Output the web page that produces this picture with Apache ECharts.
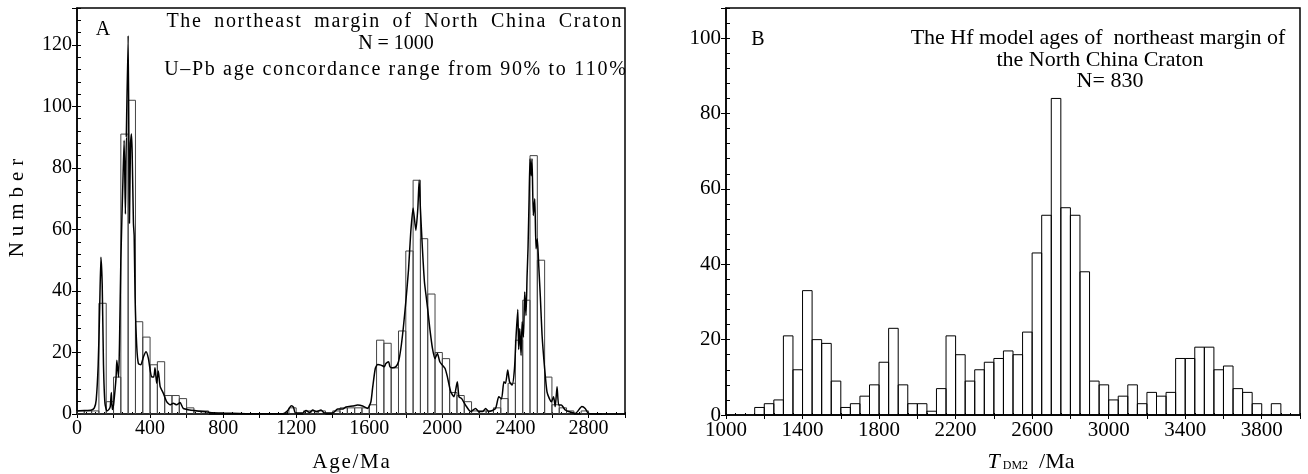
<!DOCTYPE html>
<html><head><meta charset="utf-8">
<script src="https://cdn.jsdelivr.net/npm/echarts@6/dist/echarts.min.js"></script>
<style>html,body{margin:0;padding:0;background:#fff}#c{width:1308px;height:474px}</style>
</head><body><div id="c"></div>
<script>
// Panel A: U-Pb age histogram (bin width 40 Ma)
const binWidthA = 40;
const binStartA = [0,40,80,120,160,200,240,280,320,360,400,440,480,520,560,600,640,680,1160,1240,1280,1320,1400,1440,1480,1520,1560,1600,1640,1680,1720,1760,1800,1840,1880,1920,1960,2000,2040,2080,2120,2160,2200,2240,2280,2320,2360,2400,2440,2480,2520,2560,2600,2640,2680,2760];
const countA   = [1,1,1,36,4,12,91,102,30,25,16,17,6,6,5,2,1,1,2,1,1,1,1,2,2,2,2,3,24,23,15,27,53,76,57,39,20,18,7,6,4,1,1,1,2,5,10,24,37,84,50,12,3,2,1,1];
// Panel A: probability density curve [age, number]
const curveA = [[0,1],[40,1.1],[80,1.3],[95,2],[105,4.5],[116,16],[124,34],[131,51],[138,42],[145,16],[153,3.5],[164,1],[175,1.5],[182,2.4],[188,7],[193,1.5],[200,3],[207,7],[214,12],[218,17.5],[224,14],[228,12],[233,24],[240,50],[251,75],[258,89],[265,65],[270,90],[273,90],[280,123],[287,62],[293,88],[298,91],[302,85],[309,62],[313,58],[318,38],[327,22],[336,16.4],[349,16],[364,18.6],[378,20.2],[391,18],[409,12],[420,12],[427,15],[436,10],[445,14],[455,9],[473,6.7],[491,4],[509,3],[527,3.5],[545,3],[564,3.7],[582,1.8],[618,1.3],[673,0.9],[727,0.5],[800,0.3],[891,0.15],[982,0.05],[1127,0.05],[1154,1.1],[1173,2.7],[1185,2.2],[1196,0.3],[1236,0.3],[1254,1.1],[1273,0.5],[1291,1.3],[1309,0.7],[1336,1.3],[1355,0.3],[1400,0.3],[1427,1.6],[1455,1.6],[1473,2.3],[1509,2.6],[1536,2.9],[1564,2.6],[1591,1.8],[1609,4],[1618,8.3],[1633,14.8],[1646,16.1],[1664,15.9],[1682,15.4],[1691,16.4],[1706,17],[1713,15.4],[1727,15],[1746,15.4],[1760,17],[1773,21.3],[1786,27.8],[1800,36.4],[1815,47],[1827,59],[1840,67],[1855,59.7],[1866,67],[1873,76],[1880,66.7],[1891,53.7],[1902,43],[1913,37.5],[1920,34],[1931,28],[1946,21.3],[1960,18],[1973,19.7],[1986,17],[2000,15.9],[2015,14.8],[2028,12],[2046,7.2],[2064,5.6],[2082,10.5],[2091,5.6],[2106,5],[2127,2.9],[2155,0.8],[2182,1.8],[2200,0.8],[2220,0.8],[2237,1.8],[2255,0.8],[2291,1.8],[2309,5.6],[2324,4.9],[2337,10.5],[2346,10],[2358,14.3],[2368,10.5],[2382,9.4],[2395,14.8],[2404,25.6],[2413,34],[2418,21],[2424,27.8],[2431,19],[2437,30],[2444,25],[2451,39.7],[2458,32],[2464,45],[2469,53.7],[2475,70],[2480,83],[2486,77.5],[2491,83],[2498,64.5],[2506,70],[2513,53.7],[2520,57],[2528,48],[2537,37.5],[2546,25.6],[2560,14.8],[2573,7.2],[2586,5],[2597,4],[2609,5.6],[2618,2.4],[2628,8.9],[2637,2.9],[2651,2.9],[2673,1.3],[2691,0.8],[2728,0.2],[2764,2.4],[2782,1.8],[2800,0.2],[2873,0]];

// Panel B: Hf model age histogram (bin width 50 Ma)
const binWidthB = 50;
const binStartB = [1150,1200,1250,1300,1350,1400,1450,1500,1550,1600,1650,1700,1750,1800,1850,1900,1950,2000,2050,2100,2150,2200,2250,2300,2350,2400,2450,2500,2550,2600,2650,2700,2750,2800,2850,2900,2950,3000,3050,3100,3150,3200,3250,3300,3350,3400,3450,3500,3550,3600,3650,3700,3750,3850];
const countB   = [2,3,4,21,12,33,20,19,9,2,3,5,8,14,23,8,3,3,1,7,21,16,9,12,14,15,17,16,22,43,53,84,55,53,38,9,8,4,5,8,3,6,5,6,15,15,18,18,12,13,7,6,3,3];

const ticksA = {yMax:132, yStep:20, xMin:0, xMax:3000, xStep:200, xLabelStep:400};
const ticksB = {yMax:108, yStep:20, xMin:1000, xMax:4000, xStep:200, xLabelStep:400};

const FONT = 'Liberation Serif';
const chart = echarts.init(document.getElementById('c'), null, {renderer:'canvas'});

// simulate letter spacing with hair / thin spaces
function spaced(s, sep){ return Array.from(s).join(sep || '\u200A'); }

function histItem(width, stroke){
  return function(params, api){
    const x0 = api.value(0), v = api.value(1);
    const p0 = api.coord([x0, v]);
    const p1 = api.coord([x0 + width, 0]);
    return {type:'rect', shape:{x:p0[0], y:p0[1], width:p1[0]-p0[0], height:p1[1]-p0[1]},
      style:{fill:'rgba(255,255,255,0)', stroke:stroke, lineWidth:1}};
  };
}
function mainX(idx, t, fs){
  return {type:'value', gridIndex:idx, min:t.xMin, max:t.xMax, interval:t.xStep,
    axisLine:{lineStyle:{color:'#000', width:1.5}},
    axisTick:{length:4, lineStyle:{color:'#000'}},
    axisLabel:{color:'#000', fontFamily:FONT, fontSize:fs, margin:5,
      formatter:v => ((v - t.xMin) % t.xLabelStep === 0 && v < t.xMax) ? String(v) : ''},
    splitLine:{show:false}};
}
function minorX(idx, t){
  return {type:'value', gridIndex:idx, position:'bottom', min:t.xMin, max:t.xMax, interval:50,
    axisLine:{show:false}, axisTick:{inside:true, length:2, lineStyle:{color:'#000'}},
    axisLabel:{show:false}, splitLine:{show:false}};
}
function mainY(idx, t, fs){
  return {type:'value', gridIndex:idx, min:0, max:t.yMax, interval:t.yStep,
    axisLine:{show:true, lineStyle:{color:'#000', width:1.5}},
    axisTick:{show:true, length:5, lineStyle:{color:'#000'}},
    axisLabel:{color:'#000', fontFamily:FONT, fontSize:fs, margin:5,
      formatter:v => (v % t.yStep === 0) ? String(v) : ''},
    splitLine:{show:false}};
}
function minorY(idx, t){
  return {type:'value', gridIndex:idx, position:'left', min:0, max:t.yMax, interval:4,
    axisLine:{show:false}, axisTick:{show:true, inside:true, length:4, lineStyle:{color:'#000'}},
    axisLabel:{show:false}, splitLine:{show:false}};
}
function txt(x, y, s, align, size, extra){
  return Object.assign({type:'text', x:x, y:y, style:{text:s, fill:'#000', font:(size||20)+'px "'+FONT+'"',
    textAlign:align||'center', textVerticalAlign:'middle'}}, extra||{});
}

chart.setOption({
  animation:false,
  grid:[
    {left:77, top:8, width:548, height:406, show:true, borderColor:'#000', borderWidth:1.5, backgroundColor:'transparent'},
    {left:726, top:8, width:574, height:407, show:true, borderColor:'#000', borderWidth:1.5, backgroundColor:'transparent'}
  ],
  xAxis:[ mainX(0, ticksA, 20), minorX(0, ticksA), mainX(1, ticksB, 21), minorX(1, ticksB) ],
  yAxis:[ mainY(0, ticksA, 20), minorY(0, ticksA), mainY(1, ticksB, 21), minorY(1, ticksB) ],
  series:[
    {type:'custom', xAxisIndex:0, yAxisIndex:0, renderItem:histItem(binWidthA, '#444'),
      encode:{x:0, y:1}, data:binStartA.map((b,i)=>[b, countA[i]]), z:2},
    {type:'line', xAxisIndex:0, yAxisIndex:0, data:curveA, showSymbol:false, smooth:0.2,
      lineStyle:{color:'#000', width:1.5}, z:3},
    {type:'custom', xAxisIndex:2, yAxisIndex:2, renderItem:histItem(binWidthB, '#000'),
      encode:{x:0, y:1}, data:binStartB.map((b,i)=>[b, countB[i]]), z:2}
  ],
  graphic:[
    txt(103, 30, 'A', 'center', 20),
    txt(394, 22, spaced('The northeast margin of North China Craton').replace(/ /g, '  '), 'center', 20),
    txt(396, 44, 'N = 1000', 'center', 20),
    txt(395, 70, spaced('U–Pb age concordance range from 90% to 110%'), 'center', 20),
    txt(17, 208, spaced('Number', '\u2009\u200A'), 'center', 21, {rotation:Math.PI/2}),
    txt(351, 462, spaced('Age/Ma'), 'center', 21),
    txt(758, 40, 'B', 'center', 20),
    txt(1098, 38, 'The Hf model ages of  northeast margin of', 'center', 22),
    txt(1100, 60, 'the North China Craton', 'center', 22),
    txt(1110, 81, 'N= 830', 'center', 22),
    {type:'text', x:1031, y:462, style:{text:'{i|T}{s| DM2}{n|\u2002/Ma}', textAlign:'center', textVerticalAlign:'middle',
      rich:{i:{fontFamily:FONT, fontStyle:'italic', fontSize:22, fill:'#000'},
            s:{fontFamily:FONT, fontSize:12, fill:'#000', padding:[8,0,0,0]},
            n:{fontFamily:FONT, fontSize:22, fill:'#000'}}}}
  ]
});
</script></body></html>
